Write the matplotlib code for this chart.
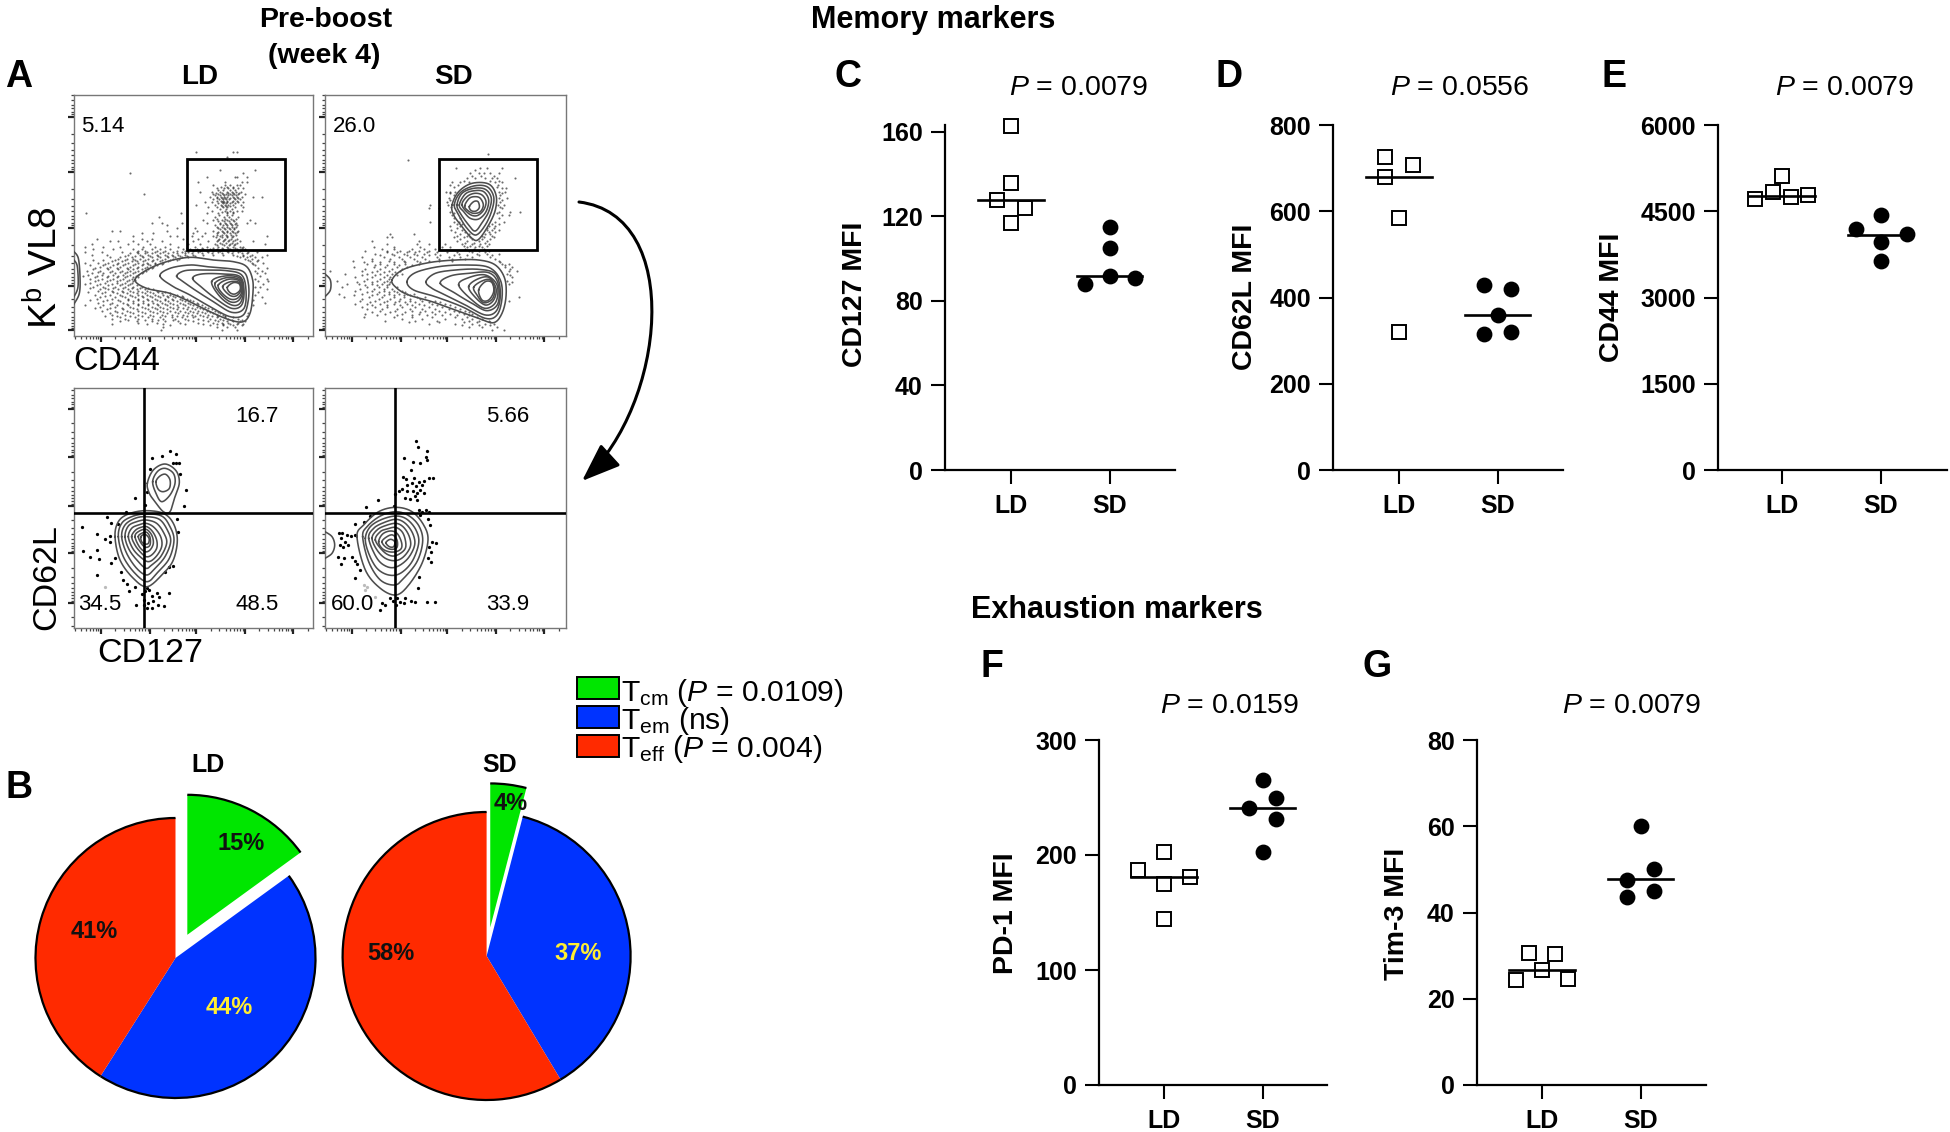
import numpy as np
import matplotlib
matplotlib.use("Agg")
import matplotlib.pyplot as plt
from matplotlib.patches import Rectangle, Arc, FancyArrowPatch
from matplotlib.path import Path

plt.rcParams['font.family'] = ['Liberation Sans', 'DejaVu Sans']
plt.rcParams['mathtext.fontset'] = 'custom'
plt.rcParams['mathtext.rm'] = 'Liberation Sans'
plt.rcParams['mathtext.it'] = 'Liberation Sans:italic'
plt.rcParams['mathtext.bf'] = 'Liberation Sans:bold'

W, H = 1950, 1132

# ------------------------------------------------------------------ data
groups = ['LD', 'SD']

c_ld_x = [0, 0, -0.14, 0.14, 0];        c_ld = [163, 136, 128, 124, 117];        c_ld_med = 128
c_sd_x = [0, 0, -0.25, 0, 0.26];        c_sd = [115, 105, 88, 92, 91];           c_sd_med = 92
d_ld_x = [-0.14, 0.14, -0.14, 0, 0];    d_ld = [725, 708, 680, 585, 320];        d_ld_med = 680
d_sd_x = [-0.14, 0.14, 0, -0.14, 0.14]; d_sd = [430, 420, 360, 315, 320];        d_sd_med = 360
e_ld_x = [-0.27, -0.09, 0, 0.09, 0.26]; e_ld = [4717, 4835, 5117, 4747, 4776];   e_ld_med = 4770
e_sd_x = [-0.25, 0, 0.27, 0, 0];        e_sd = [4188, 4430, 4100, 3970, 3635];   e_sd_med = 4090
f_ld_x = [-0.26, 0, 0, 0.26, 0];        f_ld = [187, 203, 175, 181, 144];        f_ld_med = 181
f_sd_x = [0, 0.14, -0.14, 0.14, 0];     f_sd = [265, 250, 241, 231, 203];        f_sd_med = 241
g_ld_x = [-0.13, 0.13, 0, -0.26, 0.26]; g_ld = [30.6, 30.4, 26.6, 24.3, 24.5];   g_ld_med = 26.6
g_sd_x = [0, 0.14, -0.14, 0.14, -0.14]; g_sd = [60, 50, 47.6, 44.9, 43.6];       g_sd_med = 47.7

pie_labels = ['Tcm', 'Tem', 'Teff']
pie_ld = [15, 44, 41]
pie_sd = [4, 37, 58]
pie_colors = ['#00E600', '#0033FF', '#FF2A00']

gate_pct_top = ['5.14', '26.0']
quad_ld = ['16.7', '34.5', '48.5']
quad_sd = ['5.66', '60.0', '33.9']

# Flow panels: y band -> x positions (channel units)
top_ld_dots = {
 5:[378,490,500], 20:[470], 60:[450,555], 70:[180,520], 80:[410,495,502,530], 95:[385,465,515,530],
 105:[430,465,480,500,510], 115:[440,462,475,490,505,520], 125:[390,425,450,470,485,497,512],
 132:[222,430,445,458,468,480,492,505,525], 140:[420,440,452,463,472,488,500,515,550,575],
 148:[430,448,458,467,478,495,510], 156:[405,425,455,462,470,485,505,520],
 164:[378,435,452,465,473,490,512], 172:[415,440,460,472,495,520], 182:[425,465,480,500,515],
 190:[47,332,410,445,470,490], 200:[268,435,462,478,505], 210:[400,430,455,470,490,540],
 218:[245,275,335,410,450,465,480,498,530,555], 226:[290,435,458,472,485,500],
 234:[320,375,445,462,478,492], 242:[125,150,290,380,430,455,470,485,505],
 250:[215,250,370,405,440,462,480,495], 258:[190,300,320,365,395,430,450,472,488,590],
 266:[80,215,245,340,385,448,465,482,500], 274:[120,145,190,230,275,370,415,440,458,475,490,510,548],
 282:[65,175,205,240,300,355,390,435,455,480,495,585],
 290:[45,100,150,220,255,285,325,375,410,445,470,488,510,520],
 298:[70,130,190,215,245,270,300,340,360,380,400,420,440,460,480,500,525],
 306:[45,95,155,200,230,255,280,310,335,355,385,415,445,475,505,535,560],
 314:[65,110,175,210,235,260,285,305,325,345,370,400,430,460,490,520,545,590],
 322:[120,150,185,220,245,270,295,315,335,355,510,530,555,575],
 330:[70,100,135,165,195,225,250,275,300,320,535,565],
 338:[45,85,115,145,175,205,230,255,280,545,580], 346:[60,100,130,160,190,215,240,262,555],
 354:[75,110,140,170,200,225,245,565,590], 362:[50,90,125,155,180,205,228,555,575],
 370:[65,100,135,165,190,215,560,585], 378:[40,80,115,145,172,198,570],
 386:[60,95,130,160,185,555,590], 394:[75,110,140,170,190,565,595], 402:[45,90,125,155,180,580],
 410:[70,100,135,165,190,215,555,570], 418:[90,115,145,175,200,225,250,590],
 426:[55,105,130,160,190,215,240,265,285,565], 434:[75,120,150,180,205,230,255,280,300,320,555],
 442:[90,135,165,195,220,245,270,295,315,340,575], 450:[60,110,145,175,205,235,260,285,310,335,360,550],
 458:[85,125,160,190,220,250,275,300,330,355,380,585],
 466:[45,100,140,175,205,235,265,290,320,345,370,395,550],
 474:[75,120,155,190,225,255,280,310,340,365,390,415],
 482:[95,135,170,205,240,270,300,330,360,385,410,435],
 490:[120,155,190,225,260,290,325,355,380,405,430,450,535],
 498:[105,140,180,215,250,285,320,350,375,400,425,445,465,530],
 506:[125,165,205,245,280,315,345,385,420,450,475,505],
 514:[150,200,245,285,325,370,415,445,470,490,510,525],
 522:[125,230,280,345,400,440,460,480,500,520], 530:[280,440,470,495], 540:[272,455,500],
 110:[452,470,488], 120:[445,460,480,495], 128:[438,455,475,490,508], 136:[435,450,462,475,485,498],
 144:[442,455,465,480,492,505], 152:[440,452,460,472,488,500], 160:[445,458,468,480,495], 168:[455,468,480],
 176:[450,468,485], 186:[455,472,490], 196:[448,470,485], 206:[440,465,482,498], 214:[445,462,478,492],
 222:[450,468,482,495], 230:[440,455,470,485,498], 238:[450,465,480,492], 246:[445,458,472,488,500],
 254:[440,455,468,482,498], 262:[438,455,470,485], 270:[445,462,478,495], 278:[450,468,485,500],
 286:[440,462,478,492], 294:[350,395,430,455,475,495,515],
 302:[205,225,260,285,320,345,370,390,410,430,450,470,490,510],
 310:[180,205,225,245,270,295,320,345,365,395,425,455,485,515,530],
 318:[165,195,215,240,265,290,310,330,350,375,500,520,540],
 326:[145,170,190,210,235,260,285,308,328,525,545], 334:[125,155,185,200,220,245,270,295,540,560],
 342:[105,140,165,195,220,235,255,275,550], 350:[90,120,150,180,205,230,250],
 358:[70,115,145,175,190,215,235], 366:[85,120,150,172,195,218], 374:[55,95,130,160,180,205],
 382:[75,110,140,165,190,205], 390:[85,120,150,178,195], 398:[60,105,140,165,185], 406:[80,115,150,175,200],
 414:[60,105,130,160,185,210,235], 422:[85,125,155,180,205,230,260], 430:[95,140,170,200,225,250,275,300],
 438:[105,155,185,215,240,265,290,310,335], 446:[80,125,175,205,230,255,285,305,330,350],
 454:[100,150,190,220,245,270,295,320,345,370], 462:[120,170,205,235,260,285,310,340,360,385],
 470:[90,135,180,215,245,270,300,325,355,380,405], 478:[110,160,200,235,262,290,320,350,375,400,425],
 486:[140,180,215,250,280,315,345,370,395,420,445], 494:[125,165,205,240,275,305,340,365,390,415,440,460],
 502:[150,195,235,270,305,335,370,410,440,465,490], 510:[175,225,265,310,355,400,435,460,485,515],
 518:[205,260,330,385,430,455,475,505], 526:[300,420,460,490,515],
}
top_sd_dots = {
 12:[497], 30:[258], 55:[403,475,495,540], 70:[445,470,485,505,530], 85:[435,460,490,510,525,578],
 95:[390,415,440,520,540], 105:[385,408,528], 115:[540,552], 125:[372,385,398,530,548],
 135:[395,535], 145:[380,530,555], 155:[375,535], 165:[325,378,528,545], 175:[320,350,540],
 185:[385,530,565,595], 195:[390,540,560], 215:[325,395,410,520,545], 228:[385,415,500,520],
 240:[388,420,495,510,530], 252:[205,275,415,440,490,505], 262:[195,210,395,425,445,485,515],
 272:[150,290,405,435,470,495], 282:[195,285,320,370,420,450,475,500],
 292:[155,215,295,360,385,435,460,480], 302:[130,195,235,260,290,320,440,470,500],
 312:[160,210,245,275,305,340,410,465,495,530], 322:[120,185,230,265,300,345,380,415,450,505],
 332:[93,150,200,245,285,320,350,390,530], 342:[135,175,215,250,290,540,560],
 352:[95,155,190,225,255,550,570], 362:[25,120,165,200,235,560,585], 372:[70,135,175,210,240,555],
 382:[100,150,185,205,570], 392:[45,125,165,195,555], 402:[75,110,150,180,200,560],
 412:[60,135,170,195,225], 422:[100,150,185,215,240], 432:[50,120,165,200,230,255,275],
 442:[65,140,180,215,245,285,310,590], 452:[115,160,195,230,265,300,340,560],
 462:[100,135,175,215,255,290,330,370], 472:[120,160,195,240,280,320,360,400],
 482:[175,220,270,310,350,395,430], 492:[130,190,240,290,340,385,425,450],
 502:[125,215,270,330,400,435,465], 512:[190,280,345,440,470,500], 522:[320,400,450,490,515],
 532:[440,480,525], 540:[510,545],
 60:[460], 78:[450,478,515], 92:[425,505,530], 112:[395,525], 130:[385,540], 150:[385,540], 170:[388,535],
 190:[395,525], 205:[395,415,530], 222:[405,420,510,530], 235:[405,495,515], 246:[400,430,500,520],
 258:[405,435,480,510], 268:[415,450,480,505], 278:[430,455,490], 288:[425,445,470,495],
 298:[180,215,270,305,340,430,455,485], 306:[195,225,255,280,315,345,375,405,450,490],
 316:[175,215,255,285,320,355,395,435,470,510], 326:[150,205,240,275,310,350,390,430,520],
 336:[125,175,215,250,295,535], 346:[160,195,230,270,550], 356:[130,175,210,240,565], 366:[150,185,220],
 376:[120,160,195,225,565], 386:[135,175,200], 396:[105,150,185,205,570], 406:[130,165,195],
 416:[115,155,185,210], 426:[135,170,200,225,250], 436:[95,150,185,215,245,265],
 446:[120,170,205,235,265,295], 456:[145,185,220,250,280,320,355], 466:[150,195,235,270,305,345,385],
 476:[135,180,225,265,300,340,380,415], 486:[150,205,250,295,330,370,410,440],
 496:[165,225,270,315,360,405,440], 506:[240,300,370,420,450,480], 516:[260,350,425,465,505], 526:[420,470,505],
}
bot_ld_dots = [(247,53),(277,47),(300,34),(319,43),(240,87),(310,70),(318,68),(326,68),(331,103),(348,150),
 (342,197),(195,175),(168,215),(110,232),(122,248),(35,262),(80,282),(105,296),(120,288),(120,307),(145,252),
 (320,237),(325,277),(38,333),(82,330),(60,352),(88,358),(122,370),(135,355),(80,406),(152,396),(158,420),
 (172,432),(178,452),(195,440),(285,395),(298,380),(310,378),(232,445),(225,452),(238,450),(215,462),(262,458),
 (297,458),(245,468),(268,472),(222,480),(250,482),(198,495),(222,495),(235,488),(265,495),(283,497),(230,505),
 (247,505),(225,195),(230,155)]
bot_sd_dots = [(283,33),(287,50),(314,63),(246,83),(313,80),(316,90),(272,95),(295,98),(268,120),(244,142),(252,148),
 (275,145),(290,155),(305,152),(322,145),(332,143),(255,165),(270,160),(282,168),(300,165),(240,178),(232,183),
 (255,182),(272,182),(285,188),(295,180),(280,197),(220,192),(250,205),(265,207),(285,210),(305,190),(167,210),
 (131,230),(215,228),(290,240),(300,245),(312,240),(322,245),(295,255),(318,268),(325,285),(100,282),(125,275),
 (145,258),(50,308),(60,308),(75,315),(88,318),(100,315),(58,325),(70,335),(55,345),(78,345),(62,352),(48,382),
 (65,385),(58,402),(90,380),(100,392),(105,402),(115,420),(100,445),(330,335),(342,338),(320,352),(328,365),
 (318,385),(328,395),(292,442),(288,473),(205,505),(212,512),(225,505),(235,515),(250,505),(245,520),(268,512),
 (280,517),(316,517),(340,517),(190,525),(180,520),(175,540),(222,525)]

# contour outlines
top_ld_rings = [
 [(195,390),(230,360),(290,335),(360,322),(430,330),(490,335),(530,350),(548,390),(548,440),(540,490),(520,515),(480,510),(420,485),(360,455),(300,430),(230,415)],
 [(270,378),(300,355),(360,345),(410,350),(470,355),(520,365),(535,400),(535,450),(520,495),(480,500),(420,470),(360,435),(310,410)],
 [(320,378),(345,362),(400,360),(470,362),(515,375),(528,420),(522,475),(485,487),(430,455),(375,420),(340,395)],
 [(368,385),(395,372),(460,372),(510,380),(522,420),(515,465),(485,475),(440,448),(395,412)],
 [(425,395),(465,378),(510,385),(520,425),(510,460),(485,465),(450,440)],
 [(435,400),(470,383),(510,390),(518,425),(505,452),(480,455),(450,430)],
 [(445,405),(475,388),(508,393),(515,425),(502,445),(480,447),(455,428)],
 [(458,410),(482,395),(508,398),(512,422),(498,438),(478,435)],
 [(472,412),(490,398),(508,402),(510,420),(495,432),(480,428)],
]
top_ld_edge = [[(12,305),(25,325),(30,380),(28,430),(12,462)], [(12,330),(22,350),(24,410),(12,440)]]
top_sd_rings = [
 [(210,390),(245,358),(320,338),(400,330),(470,330),(520,345),(548,385),(552,440),(540,490),(515,518),(470,505),(400,480),(330,455),(260,435),(225,415)],
 [(255,395),(280,368),(350,350),(430,345),(500,352),(535,390),(540,445),(525,495),(490,505),(420,470),(340,440),(275,420)],
 [(312,395),(340,370),(400,360),(470,358),(520,372),(535,425),(525,480),(490,495),(430,465),(370,435),(330,415)],
 [(355,400),(385,378),(440,370),(500,368),(528,400),(528,460),(495,482),(450,460),(400,430)],
 [(410,405),(440,383),(490,375),(525,405),(522,455),(490,475),(450,450)],
 [(440,410),(465,388),(500,382),(522,415),(515,450),(490,465),(458,440)],
 [(455,412),(480,393),(505,390),(518,420),(510,448),(485,458),(465,435)],
 [(470,420),(490,395),(510,398),(515,425),(500,450),(480,450)],
 [(390,165),(410,125),(450,100),(500,102),(522,135),(520,180),(500,225),(470,268),(450,265),(420,230),(395,195)],
 [(397,165),(415,128),(455,108),(495,110),(515,140),(510,180),(490,225),(462,255),(435,235),(410,195)],
 [(405,165),(420,130),(455,115),(490,118),(508,145),(500,185),(482,215),(460,243),(440,225),(415,190)],
 [(412,165),(430,132),(458,122),(485,125),(500,150),(492,185),(470,207),(445,205),(425,185)],
 [(420,165),(435,140),(458,130),(480,135),(492,155),(485,180),(465,197),(442,192)],
 [(428,168),(442,145),(460,140),(475,145),(484,165),(475,185),(455,190),(438,182)],
 [(442,170),(455,155),(468,155),(472,172),(462,183),(448,182)],
]
top_sd_edge = [[(9,372),(25,390),(25,420),(9,440)]]
bot_ld_rings = [
 [(232,130),(250,90),(285,72),(318,92),(328,128),(315,170),(300,215),(280,215),(255,185),(238,160)],
 [(248,125),(262,95),(285,85),(310,100),(315,130),(300,165),(275,185),(258,160)],
 [(258,125),(270,108),(287,103),(300,120),(298,145),(280,155),(265,148)],
 [(135,290),(145,245),(175,222),(225,212),(280,220),(310,250),(322,300),(310,360),(280,400),(232,440),(190,415),(150,360)],
 [(145,290),(155,250),(185,230),(225,222),(275,228),(300,260),(312,300),(298,355),(265,395),(232,425),(195,400),(160,350)],
 [(155,290),(165,255),(195,235),(228,230),(268,238),(292,270),(302,305),(285,350),(255,385),(230,405),(200,385),(170,340)],
 [(165,290),(175,258),(200,245),(228,240),(260,250),(282,280),(290,310),(272,350),(245,375),(228,385),(205,365),(178,330)],
 [(175,290),(185,265),(205,255),(228,250),(252,262),(272,290),(275,320),(258,350),(235,365),(210,350),(188,325)],
 [(185,290),(195,272),(210,263),(230,260),(248,275),(260,300),(260,325),(245,345),(228,350),(210,335),(195,315)],
 [(195,290),(205,275),(228,268),(245,285),(250,310),(240,330),(225,335),(208,320)],
 [(205,290),(215,280),(230,277),(240,292),(240,315),(228,322),(215,312)],
 [(213,290),(225,283),(237,295),(235,310),(225,312),(215,305)],
]
bot_sd_rings = [
 [(105,320),(125,285),(170,245),(222,232),(270,245),(305,285),(318,330),(300,400),(260,465),(222,495),(175,475),(130,420)],
 [(122,320),(135,290),(175,258),(222,245),(262,258),(292,290),(302,335),(285,395),(245,445),(218,465),(175,450),(140,395)],
 [(130,325),(145,290),(180,268),(222,258),(255,268),(282,300),(290,340),(270,395),(235,430),(200,435),(165,415),(140,370)],
 [(140,325),(155,295),(185,278),(222,268),(250,280),(272,310),(278,345),(258,385),(225,410),(195,410),(165,385)],
 [(150,325),(165,300),(190,287),(222,280),(245,292),(262,320),(265,350),(245,380),(220,392),(190,385),(165,360)],
 [(160,330),(175,305),(195,297),(220,292),(240,305),(250,330),(250,355),(232,372),(210,378),(185,365)],
 [(170,335),(182,312),(205,303),(225,310),(238,335),(238,355),(222,365),(200,365),(180,355)],
 [(180,335),(195,320),(212,315),(225,330),(225,352),(210,358),(192,352)],
 [(192,338),(205,328),(218,335),(215,350),(202,350)],
]
bot_sd_edge = [[(9,305),(30,320),(38,345),(30,370),(9,385)]]

# ------------------------------------------------------------------ helpers
fig = plt.figure(figsize=(W/100, H/100), dpi=100, facecolor='white')

def px_axes(l, t, r, b):
    return fig.add_axes([l/W, 1-b/H, (r-l)/W, (b-t)/H])

def smooth(pts, closed=True, n=14):
    p = np.array(pts, float)
    if closed:
        q = np.vstack([p[-1], p, p[0], p[1]])
    else:
        q = np.vstack([p[0], p, p[-1]])
    out = []
    t = np.linspace(0, 1, n, endpoint=False)[:, None]
    for i in range(1, len(q)-2):
        a, b, c, d = q[i-1], q[i], q[i+1], q[i+2]
        out.append(0.5*(2*b+(c-a)*t+(2*a-5*b+4*c-d)*t**2+(3*b-a-3*c+d)*t**3))
    out = np.vstack(out + [q[-2][None]])
    return out[:, 0], out[:, 1]

def flow_axes(box, xlim, ylim, major_y):
    ax = px_axes(*box)
    ax.set_xlim(*xlim); ax.set_ylim(*ylim)
    for s in ax.spines.values():
        s.set_color('#777777'); s.set_linewidth(1.0)
    fx = np.array([26.6, 76, 122, 171, 219]) / (box[2]-box[0])
    fy = np.array(major_y) / (box[3]-box[1])
    xmaj = xlim[0] + fx*(xlim[1]-xlim[0])
    ymaj = ylim[1] + fy*(ylim[0]-ylim[1])
    dec = np.log10(np.arange(2, 10))
    def minors(m):
        st = m[1]-m[0]
        return np.concatenate([m[0]-st+dec*st] + [a+dec*(b-a) for a, b in zip(m[:-1], m[1:])] + [m[-1]+dec*st])
    ax.set_xticks(xmaj); ax.set_yticks(ymaj)
    ax.set_xticks([v for v in minors(xmaj) if xlim[0] < v < xlim[1]], minor=True)
    ax.set_yticks([v for v in minors(ymaj) if ylim[1] < v < ylim[0]], minor=True)
    ax.tick_params(which='major', length=4, width=1.6, color='#222222', labelbottom=False, labelleft=False)
    ax.tick_params(which='minor', length=2, width=0.9, color='#444444')
    return ax

def rings(ax, closed, open_=()):
    for r in closed:
        ax.plot(*smooth(r), color='#4d4d4d', lw=1.15, zorder=3)
    for r in open_:
        ax.plot(*smooth(r, closed=False), color='#4d4d4d', lw=1.15, zorder=3)

def band_dots(ax, bands):
    xs = [x for y, v in bands.items() for x in v]
    ys = [y for y, v in bands.items() for x in v]
    ax.scatter(xs, ys, s=2.3, color='#111111', alpha=0.62, linewidths=0, zorder=2)

def big_dots(ax, pts):
    ax.scatter(*zip(*pts), s=5.5, color='black', linewidths=0, zorder=2)

# ------------------------------------------------------------------ panel A
major_top = [22, 77, 133, 191, 235]
major_bot = [21, 69, 118, 165, 215]

a1 = flow_axes((74, 95, 313, 336), (12, 729), (558, -165), major_top)
band_dots(a1, top_ld_dots); rings(a1, top_ld_rings, top_ld_edge)
a1.add_patch(Rectangle((350, 27), 295, 273, fill=False, ec='black', lw=2.0, zorder=4))

a2 = flow_axes((325, 95, 566, 336), (9, 732), (558, -165), major_top)
band_dots(a2, top_sd_dots); rings(a2, top_sd_rings, top_sd_edge)
a2.add_patch(Rectangle((350, 27), 295, 273, fill=False, ec='black', lw=2.0, zorder=4))

a3 = flow_axes((74, 388, 313, 628), (12, 729), (564, -156), major_bot)
big_dots(a3, bot_ld_dots); rings(a3, bot_ld_rings)
a3.scatter([105], [440], s=5.5, color='#bbbbbb', linewidths=0)
a3.axvline(222, color='black', lw=1.9, zorder=4); a3.axhline(218, color='black', lw=1.9, zorder=4)

a4 = flow_axes((325, 388, 566, 628), (9, 732), (594, -126), major_bot)
big_dots(a4, bot_sd_dots); rings(a4, bot_sd_rings, bot_sd_edge)
a4.scatter([125, 135, 130, 160], [465, 470, 480, 500], s=5.5, color='#bbbbbb', linewidths=0)
a4.axvline(220, color='black', lw=1.9, zorder=4); a4.axhline(250, color='black', lw=1.9, zorder=4)

# ------------------------------------------------------------------ panel B
def pie(cx, cy, R, vals, explode_frac):
    pad = 1.35
    ax = px_axes(cx-R*pad, cy-R*pad, cx+R*pad, cy+R*pad)
    wedges, _ = ax.pie(vals, colors=pie_colors, startangle=90, counterclock=False,
                       explode=[explode_frac, 0, 0], radius=1.0,
                       wedgeprops=dict(linewidth=0))
    ax.set_xlim(-pad, pad); ax.set_ylim(-pad, pad)
    for w in wedges:
        ax.add_patch(Arc(w.center, 2*w.r, 2*w.r, theta1=w.theta1, theta2=w.theta2,
                         color='black', lw=1.6, zorder=5))
    ax.patch.set_alpha(0)
    return ax

pie(175.5, 958, 140, pie_ld, 0.186)
pie(486.6, 956, 144, pie_sd, 0.20)

# ------------------------------------------------------------------ panels C-G
def dot_panel(l, t, r, b, ymax, yticks, ylabel, lx, ly, ldx, ldy, ldm, sdx, sdy, sdm, offset):
    ax = px_axes(l, t, r, b)
    unit = 98.5
    x0 = -offset/unit
    ax.set_xlim(x0, x0 + (r-l)/unit)
    ax.set_ylim(0, ymax)
    ax.plot(ldx, ldy, ls='none', marker='s', ms=9.4, mfc='white', mec='black', mew=1.4, clip_on=False, zorder=3)
    ax.plot([1+v for v in sdx], sdy, ls='none', marker='o', ms=10.4, mfc='black', mec='black', clip_on=False, zorder=3)
    ax.plot([-0.33, 0.33], [ldm, ldm], color='black', lw=1.9, zorder=4)
    ax.plot([0.67, 1.33], [sdm, sdm], color='black', lw=1.9, zorder=4)
    for s in ('top', 'right'):
        ax.spines[s].set_visible(False)
    ax.spines['left'].set_linewidth(1.6); ax.spines['bottom'].set_linewidth(1.6)
    ax.set_xticks([0, 1]); ax.set_xticklabels(groups)
    ax.set_yticks(yticks)
    ax.tick_params(axis='both', length=10, width=1.5, pad=6, labelsize=18)
    ax.tick_params(axis='x', pad=7)
    for t_ in ax.get_yticklabels() + ax.get_xticklabels():
        t_.set_fontweight('bold')
    ax.set_ylabel(ylabel, fontsize=20.5, fontweight='bold', va='center')
    ax.yaxis.set_label_coords((lx-l)/(r-l), (b-ly)/(b-t))
    return ax

dot_panel(945, 125, 1175, 470, 163.3, [0, 40, 80, 120, 160], 'CD127 MFI', 855, 294,
          c_ld_x, c_ld, c_ld_med, c_sd_x, c_sd, c_sd_med, 66)
dot_panel(1333, 125, 1563, 470, 800, [0, 200, 400, 600, 800], 'CD62L MFI', 1245, 297,
          d_ld_x, d_ld, d_ld_med, d_sd_x, d_sd, d_sd_med, 66)
dot_panel(1718, 125, 1947, 470, 6000, [0, 1500, 3000, 4500, 6000], 'CD44 MFI', 1612, 297,
          e_ld_x, e_ld, e_ld_med, e_sd_x, e_sd, e_sd_med, 64)
dot_panel(1099, 740, 1327, 1085, 300, [0, 100, 200, 300], 'PD-1 MFI', 1006, 913,
          f_ld_x, f_ld, f_ld_med, f_sd_x, f_sd, f_sd_med, 65)
dot_panel(1477, 740, 1706, 1085, 80, [0, 20, 40, 60, 80], 'Tim-3 MFI', 1397, 914,
          g_ld_x, g_ld, g_ld_med, g_sd_x, g_sd, g_sd_med, 65)

# ------------------------------------------------------------------ overlay text
ov = fig.add_axes([0, 0, 1, 1], zorder=20)
ov.set_xlim(0, W); ov.set_ylim(H, 0); ov.axis('off'); ov.patch.set_alpha(0)

def T(x, y, s, size, **kw):
    kw.setdefault('ha', 'center'); kw.setdefault('va', 'center')
    ov.text(x, y, s, fontsize=size, **kw)

for x, y, s in [(19, 77, 'A'), (19, 788, 'B'), (848, 77, 'C'), (1229, 77, 'D'), (1614, 77, 'E'), (992, 667, 'F'), (1377, 667, 'G')]:
    T(x, y, s, 27, fontweight='bold')

T(326, 20, 'Pre-boost', 20.5, fontweight='bold')
T(324, 56, '(week 4)', 20.5, fontweight='bold')
T(200, 77, groups[0], 20, fontweight='bold')
T(453, 77, groups[1], 20, fontweight='bold')
T(811, 20, 'Memory markers', 22, fontweight='bold', ha='left')
T(971, 610, 'Exhaustion markers', 22, fontweight='bold', ha='left')

T(46, 268, r'K$^{\mathrm{b}}$ VL8', 28, rotation=90)
T(117, 361, 'CD44', 24.5)
T(47, 577, 'CD62L', 24.5, rotation=90)
T(150, 653, 'CD127', 24.5)

T(103, 127, gate_pct_top[0], 16); T(354, 127, gate_pct_top[1], 16)
T(257, 416, quad_ld[0], 16); T(100, 604, quad_ld[1], 16); T(257, 604, quad_ld[2], 16)
T(508, 416, quad_sd[0], 16); T(352, 604, quad_sd[1], 16); T(508, 604, quad_sd[2], 16)

T(208, 765, groups[0], 18, fontweight='bold')
T(500, 765, groups[1], 18, fontweight='bold')
T(241, 843, f'{pie_ld[0]}%', 17, fontweight='bold', color='#111111')
T(229, 1008, f'{pie_ld[1]}%', 17, fontweight='bold', color='#FFEE33')
T(94, 932, f'{pie_ld[2]}%', 17, fontweight='bold', color='#111111')
T(511, 803, f'{pie_sd[0]}%', 17, fontweight='bold', color='#111111')
T(578, 953, f'{pie_sd[1]}%', 17, fontweight='bold', color='#FFEE33')
T(391, 953, f'{pie_sd[2]}%', 17, fontweight='bold', color='#111111')

leg_y = [677, 706, 735]
leg_txt = [r'T$_{\mathrm{cm}}$ ($\mathit{P}$ = 0.0109)', r'T$_{\mathrm{em}}$ (ns)', r'T$_{\mathrm{eff}}$ ($\mathit{P}$ = 0.004)']
for y, c, s in zip(leg_y, pie_colors, leg_txt):
    ov.add_patch(Rectangle((577, y), 42, 22, fc=c, ec='black', lw=1.4))
for y, s in zip([693, 721, 749], leg_txt):
    T(621, y, s, 21.7, ha='left')

for (x, y, s) in [(1079, 88, '0.0079'), (1460, 88, '0.0556'), (1845, 88, '0.0079'), (1229, 706, '0.0159'), (1632, 706, '0.0079')]:
    T(x, y, r'$\mathit{P}$ = ' + s, 20.5)

arrow_path = Path([(579, 202), (685, 215), (665, 405), (582, 481)],
                  [Path.MOVETO, Path.CURVE4, Path.CURVE4, Path.CURVE4])
ov.add_patch(FancyArrowPatch(path=arrow_path, arrowstyle='-|>,head_length=0.85,head_width=0.32',
                             mutation_scale=28, color='black', lw=2.2, shrinkA=0, shrinkB=0))

fig.savefig('out.png', dpi=100, facecolor='white')
